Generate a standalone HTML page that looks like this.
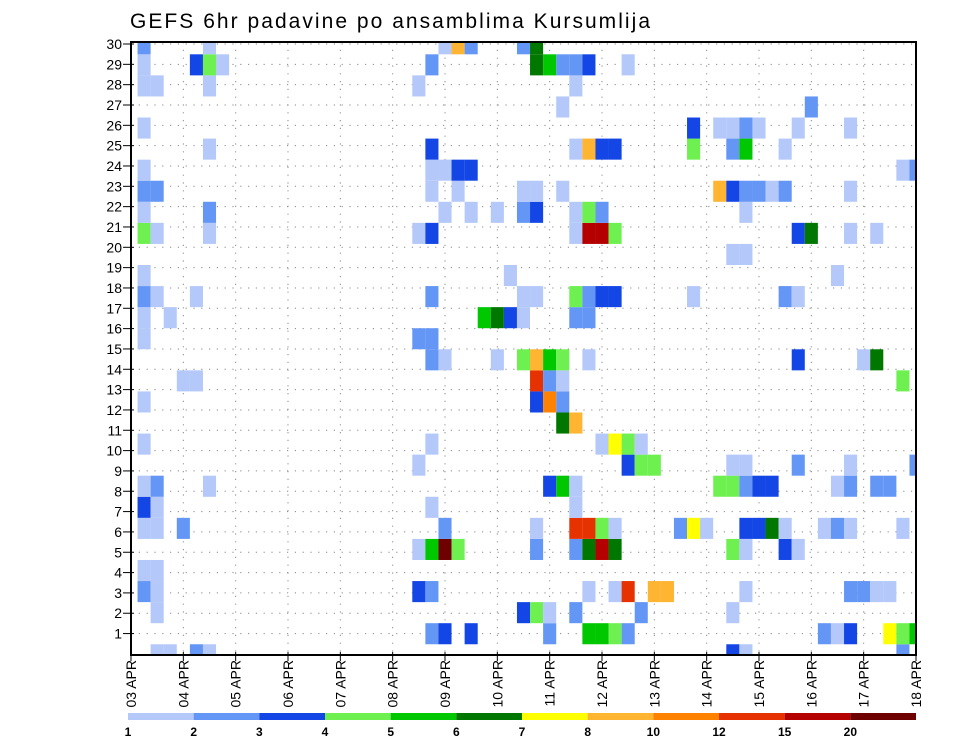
<!DOCTYPE html>
<html><head><meta charset="utf-8"><style>
html,body{margin:0;padding:0;background:#fff;}
svg{display:block;font-family:"Liberation Sans","DejaVu Sans",sans-serif;}
</style></head><body>
<svg id="chart" width="960" height="742" viewBox="0 0 960 742" xmlns="http://www.w3.org/2000/svg">
<defs><clipPath id="plotclip"><rect x="131" y="42" width="785" height="613"/></clipPath></defs>
<text x="130" y="28" font-size="21" fill="#000" textLength="520" lengthAdjust="spacing">GEFS 6hr padavine po ansamblima Kursumlija</text>
<g id="grid"></g>
<g id="cells" clip-path="url(#plotclip)"></g>
<rect x="131" y="42" width="785" height="613" fill="none" stroke="#000" stroke-width="2"/>
<g id="yaxis"></g>
<g id="xaxis"></g>
<g id="legend"></g>
</svg>
<script>
// Data arrays
const dayLabels = ["03 APR","04 APR","05 APR","06 APR","07 APR","08 APR","09 APR","10 APR","11 APR","12 APR","13 APR","14 APR","15 APR","16 APR","17 APR","18 APR"];
const yTickLabels = [1,2,3,4,5,6,7,8,9,10,11,12,13,14,15,16,17,18,19,20,21,22,23,24,25,26,27,28,29,30];
const levels = [1,2,3,4,5,6,7,8,10,12,15,20];
const levelColors = ["#b4c8fa","#6496f5","#1446e6","#6ef050","#00c800","#007800","#ffff00","#ffb432","#ff8200","#e63200","#b40000","#6e0000"];
const codeValue = {L:1.5,M:2.5,D:3.5,g:4.5,G:5.5,K:6.5,Y:7.5,O:9,P:11,R:13,X:17,Z:22};
// per member: "step+code" lists (step = 6h index from 03 APR 00Z)
const memberRows = {
30:"1M 6L 24L 25O 26M 30M 31K",
29:"1L 5D 6g 7L 23M 31K 32G 33M 34M 35D 38L",
28:"1L 2L 6L 22L 34L",
27:"33L 52M",
26:"1L 43D 45L 46L 47M 48L 51L 55L",
25:"6L 23D 34L 35O 36D 37D 43g 46M 47G 50L",
24:"1L 23L 24L 25D 26D 59L 60M",
23:"1M 2M 23L 25L 30L 31L 33L 45O 46D 47M 48M 49L 50M 55L",
22:"1L 6M 24L 26L 28L 30M 31D 34L 35g 36M 47L",
21:"1g 2L 6L 22L 23D 34L 35X 36X 37g 51D 52K 55L 57L",
20:"46L 47L",
19:"1L 29L 54L",
18:"1M 2L 5L 23M 30L 31L 34g 35M 36D 37D 43L 50M 51L",
17:"1L 3L 27G 28K 29D 30L 34M 35M",
16:"1L 22M 23M",
15:"23M 24L 28L 30g 31O 32G 33g 35L 51D 56L 57K",
14:"4L 5L 31R 32M 33L 59g",
13:"1L 31D 32P 33M",
12:"33K 34O",
11:"1L 23L 36L 37Y 38g 39L",
10:"22L 38D 39g 40g 46L 47L 51M 55L 60M",
9:"1L 2M 6L 32D 33G 34L 45g 46g 47M 48D 49D 54L 55M 57M 58M",
8:"1D 2L 23L 34L",
7:"1L 2L 4M 24M 31L 34R 35R 36g 37L 42M 43Y 44L 47D 48D 49K 50L 53L 54M 55L 59L",
6:"22L 23G 24Z 25g 31M 34M 35K 36X 37K 46g 47L 50D 51L",
5:"1L 2L",
4:"1M 2L 22D 23M 35L 37L 38R 40O 41O 47L 55M 56M 57L 58L",
3:"2L 30D 31g 32L 34M 39M 46L",
2:"23M 24D 26D 32M 35G 36G 37g 38M 53M 54L 55D 58Y 59g 60G",
1:"2L 3L 5M 6L 46D 47L 59M"
};
const cellStep = [], cellMember = [], cellValue = [];
Object.keys(memberRows).forEach(m => {
  memberRows[m].split(" ").forEach(tok => {
    cellStep.push(parseInt(tok));
    cellMember.push(parseInt(m));
    cellValue.push(codeValue[tok.slice(-1)]);
  });
});

const NS = "http://www.w3.org/2000/svg";
const X0 = 131, X1 = 916, Y0 = 42, Y1 = 655;
const stepW = (X1 - X0) / 60;
function xStep(s){ return X0 + s * stepW; }
function xDay(d){ return X0 + d * 4 * stepW; }
function yLabel(k){ return 44 + (30 - k) * 20.33; }
const bandH = 21.07;
function yBandTop(m){ return 54.3 + (29 - m) * bandH; }
function colorFor(v){ let c = null; for (let i = 0; i < levels.length; i++) if (v >= levels[i]) c = levelColors[i]; return c; }
function mk(tag, attrs, parent){ const e = document.createElementNS(NS, tag); for (const k in attrs) e.setAttribute(k, attrs[k]); parent.appendChild(e); return e; }

const grid = document.getElementById("grid");
for (let k = 1; k <= 30; k++) {
  const ln = mk("line", {x1:X0, x2:X1, y1:yLabel(k), y2:yLabel(k), stroke:"#888", "stroke-width":1, "stroke-dasharray":"1.2 6.6"}, grid);
  
  
}
for (let d = 1; d < 15; d++) {
  const ln = mk("line", {x1:xDay(d), x2:xDay(d), y1:Y0, y2:Y1, stroke:"#888", "stroke-width":1, "stroke-dasharray":"1.2 6.6"}, grid);
  
  
}

const cells = document.getElementById("cells");
for (let i = 0; i < cellStep.length; i++) {
  const r = mk("rect", {x:xStep(cellStep[i]) - stepW/2, y:yBandTop(cellMember[i]), width:stepW, height:bandH, fill:colorFor(cellValue[i])}, cells);
  
  
}

const yaxis = document.getElementById("yaxis");
yTickLabels.forEach(k => {
  const t = mk("line", {x1:X0 - 8, x2:X0 + 3, y1:yLabel(k), y2:yLabel(k), stroke:"#000", "stroke-width":1}, yaxis);
  
  
  const tx = mk("text", {x:X0 - 9, y:yLabel(k) + 5, "font-size":14, "text-anchor":"end"}, yaxis);
  
  
  tx.textContent = k;
});

const xaxis = document.getElementById("xaxis");
dayLabels.forEach((lab, d) => {
  const x = xDay(d);
  const t = mk("line", {x1:x, x2:x, y1:Y1 - 3, y2:Y1 + 6, stroke:"#000", "stroke-width":1}, xaxis);
  
  
  const tx = mk("text", {x:0, y:0, "font-size":14, "text-anchor":"end", transform:"translate(" + (x + 5) + "," + (Y1 + 5) + ") rotate(-90)"}, xaxis);
  
  
  tx.textContent = lab;
});

const legend = document.getElementById("legend");
const LX0 = 128, LX1 = 916, segW = (LX1 - LX0) / levels.length;
levelColors.forEach((c, i) => {
  const r = mk("rect", {x:LX0 + i * segW, y:713, width:segW, height:7, fill:c}, legend);
  
  
});
levels.forEach((v, i) => {
  const tx = mk("text", {x:LX0 + i * segW, y:736, "font-size":12, "font-weight":"bold", "text-anchor":"middle"}, legend);
  
  
  tx.textContent = v;
});
</script>
</body></html>
